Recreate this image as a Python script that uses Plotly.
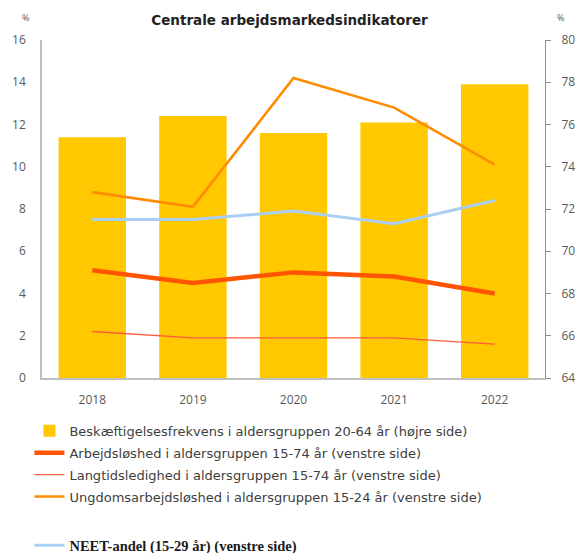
import plotly.graph_objects as go

# Centrale arbejdsmarkedsindikatorer, 2018-2022
years = ["2018", "2019", "2020", "2021", "2022"]

beskaeftigelse = [75.4, 76.4, 75.6, 76.1, 77.9]      # right axis
arbejdsloshed = [5.1, 4.5, 5.0, 4.8, 4.0]             # left axis
langtid = [2.2, 1.9, 1.9, 1.9, 1.6]                   # left axis
ungdom = [8.8, 8.1, 14.2, 12.8, 10.1]                 # left axis
neet = [7.5, 7.5, 7.9, 7.3, 8.4]                      # left axis

left_ticks = [0, 2, 4, 6, 8, 10, 12, 14, 16]
right_ticks = [64, 66, 68, 70, 72, 74, 76, 78, 80]

GREY = "#595959"
AXIS = "#BFBFBF"
FONT = "Open Sans"

fig = go.Figure()

# bars on the primary axis (right side) so the lines on y2 are drawn on top
fig.add_bar(x=years, y=beskaeftigelse, marker=dict(color="#FFC800", line=dict(width=0)),
            width=0.67, name="Beskæftigelsesfrekvens i aldersgruppen 20-64 år (højre side)",
            legend="legend", legendgroup="a", yaxis="y")
fig.add_scatter(x=years, y=arbejdsloshed, mode="lines", yaxis="y2", legend="legend",
                legendgroup="b", line=dict(color="#FF5500", width=4.5),
                name="Arbejdsløshed i aldersgruppen 15-74 år (venstre side)")
fig.add_scatter(x=years, y=langtid, mode="lines", yaxis="y2", legend="legend",
                legendgroup="c", line=dict(color="#FF5A3C", width=1.3),
                name="Langtidsledighed i aldersgruppen 15-74 år (venstre side)")
fig.add_scatter(x=years, y=ungdom, mode="lines", yaxis="y2", legend="legend",
                legendgroup="d", line=dict(color="#FF8C00", width=2.6),
                name="Ungdomsarbejdsløshed i aldersgruppen 15-24 år (venstre side)")
fig.add_scatter(x=years, y=neet, mode="lines", yaxis="y2", legend="legend2",
                line=dict(color="#A9CFF5", width=3),
                name="NEET-andel (15-29 år) (venstre side)")

fig.update_layout(
    width=579, height=553,
    margin=dict(l=42, r=34, t=40, b=175),
    paper_bgcolor="white", plot_bgcolor="white",
    font=dict(family=FONT, size=12, color=GREY),
    title=dict(text="<b>Centrale arbejdsmarkedsindikatorer</b>", x=0.5, xanchor="center",
               y=0.963, yanchor="middle",
               font=dict(family="DejaVu Sans", size=13.5, color="#222222")),
    xaxis=dict(showgrid=False, showline=True, linecolor=AXIS, linewidth=1.5, ticks="",
               automargin=False, ticklabelstandoff=10, tickfont=dict(size=12, color=GREY)),
    yaxis=dict(side="right", range=[64, 80], tickvals=right_ticks, showgrid=False,
               showline=True, linecolor="#8C8C8C", linewidth=1, ticks="outside", ticklen=5,
               tickcolor="#8C8C8C", zeroline=False, ticklabelstandoff=8, automargin=False,
               tickfont=dict(size=12, color=GREY)),
    yaxis2=dict(overlaying="y", side="left", range=[0, 16], tickvals=left_ticks,
                showgrid=False, showline=True, linecolor=AXIS, linewidth=1.5, ticks="",
                zeroline=False, ticklabelstandoff=12, automargin=False,
                tickfont=dict(size=12, color=GREY)),
    legend=dict(x=-0.025, y=0.248, yref="container", xanchor="left", yanchor="top",
                orientation="v", traceorder="grouped", itemwidth=30, tracegroupgap=2,
                font=dict(family="DejaVu Sans", size=13, color="#404040"),
                bgcolor="rgba(0,0,0,0)"),
    legend2=dict(x=-0.025, y=0.043, yref="container", xanchor="left", yanchor="top",
                 orientation="v", itemwidth=30,
                 font=dict(family="Liberation Serif", size=14.5, color="#1a1a1a",
                           weight="bold"),
                 bgcolor="rgba(0,0,0,0)"),
    # "%" unit labels above each axis
    annotations=[
        dict(text="%", x=-0.032, y=1.068, xref="paper", yref="paper", showarrow=False,
             xanchor="center", yanchor="middle", font=dict(size=9, color=GREY)),
        dict(text="%", x=1.03, y=1.068, xref="paper", yref="paper", showarrow=False,
             xanchor="center", yanchor="middle", font=dict(size=9, color=GREY)),
    ],
)

fig.write_html("out.html", config={"displayModeBar": False},
               post_script="document.body.style.margin = '0';")
